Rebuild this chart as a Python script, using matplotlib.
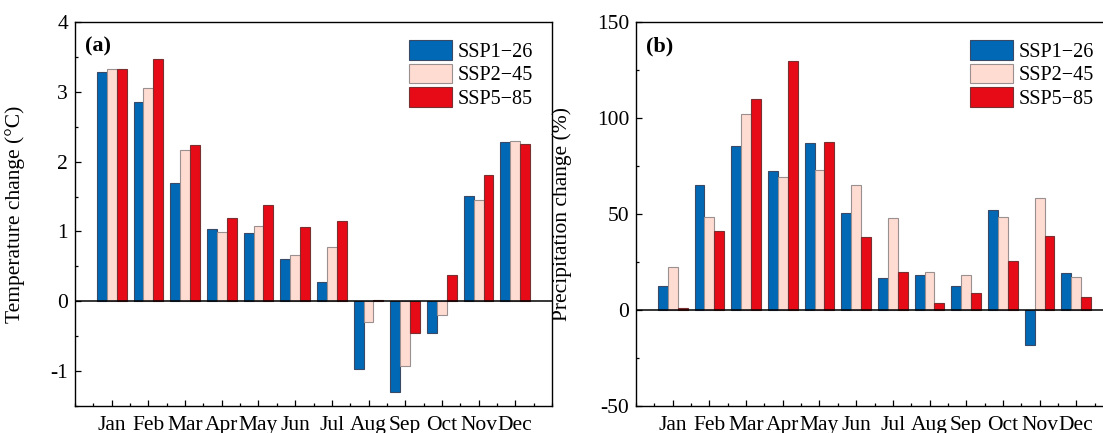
import numpy as np
import matplotlib
matplotlib.use("Agg")
import matplotlib.pyplot as plt
from matplotlib.ticker import MultipleLocator

plt.rcParams["font.family"] = ["Liberation Serif", "DejaVu Serif"]
plt.rcParams["axes.unicode_minus"] = False

# ── Data ──────────────────────────────────────────
months = ["Jan", "Feb", "Mar", "Apr", "May", "Jun",
          "Jul", "Aug", "Sep", "Oct", "Nov", "Dec"]
scenarios = ["SSP1\u221226", "SSP2\u221245", "SSP5\u221285"]

temp_ssp126 = [3.28, 2.85, 1.70, 1.03, 0.98, 0.60, 0.28, -0.97, -1.30, -0.46, 1.51, 2.28]
temp_ssp245 = [3.32, 3.05, 2.16, 0.99, 1.08, 0.66, 0.78, -0.29, -0.92, -0.20, 1.45, 2.29]
temp_ssp585 = [3.33, 3.47, 2.24, 1.19, 1.38, 1.07, 1.15, 0.02, -0.46, 0.37, 1.81, 2.25]

prec_ssp126 = [12.7, 65.3, 85.4, 72.4, 87.0, 50.7, 16.7, 18.4, 12.7, 52.3, -18.4, 19.3]
prec_ssp245 = [22.4, 48.3, 102.1, 69.4, 72.7, 65.1, 47.9, 19.6, 18.2, 48.6, 58.3, 17.2]
prec_ssp585 = [0.9, 41.3, 110.1, 129.7, 87.5, 38.0, 19.6, 3.8, 8.9, 25.5, 38.5, 6.9]

colors = ["#0068b5", "#ffdcd2", "#e60b17"]
edges = ["#3a4a66", "#9a9090", "#7a3030"]

# ── Figure ────────────────────────────────────────
W, H = 1103, 433
fig = plt.figure(figsize=(W / 100, H / 100), dpi=100)
ax_a = fig.add_axes([75 / W, 27 / H, 477 / W, 384 / H])
ax_b = fig.add_axes([636 / W, 27 / H, 477 / W, 384 / H])

x = np.arange(1, 13)
bw = 0.27


def draw_panel(ax, series, ylim, major, minor, ylabel, tag):
    for i, (vals, c, ec) in enumerate(zip(series, colors, edges)):
        ax.bar(x + (i - 1) * bw, vals, width=bw, color=c, edgecolor=ec,
               linewidth=0.8, label=scenarios[i], zorder=2)
    ax.axhline(0, color="black", linewidth=1.1, zorder=3)
    ax.set_xlim(0, 13)
    ax.set_ylim(*ylim)
    ax.set_xticks(x)
    ax.set_xticklabels(months)
    ax.xaxis.set_minor_locator(MultipleLocator(0.5))
    ax.yaxis.set_major_locator(MultipleLocator(major))
    ax.yaxis.set_minor_locator(MultipleLocator(minor))
    ax.tick_params(which="both", direction="in", top=False, right=False,
                   labelsize=15.5, width=0.9)
    ax.tick_params(which="major", length=4)
    ax.tick_params(which="minor", length=2.5)
    ax.tick_params(axis="x", pad=7)
    ax.tick_params(axis="y", pad=5)
    for sp in ax.spines.values():
        sp.set_linewidth(1.0)
    ax.set_ylabel(ylabel, fontsize=15.5)
    ax.text(0.022, 0.935, tag, transform=ax.transAxes, fontsize=16,
            fontweight="bold", ha="left", va="center")
    ax.legend(loc="upper left", bbox_to_anchor=(0.70, 0.952), frameon=False,
              fontsize=14.5, handlelength=2.15, handleheight=1.1,
              labelspacing=0.1, handletextpad=0.25, borderpad=0,
              borderaxespad=0)


draw_panel(ax_a, [temp_ssp126, temp_ssp245, temp_ssp585], (-1.5, 4), 1, 0.5,
           "Temperature change (\u00b0C)", "(a)")
draw_panel(ax_b, [prec_ssp126, prec_ssp245, prec_ssp585], (-50, 150), 50, 25,
           "Precipitation change (%)", "(b)")

ax_a.yaxis.set_label_coords(-0.105, 0.5)
ax_b.yaxis.set_label_coords(-0.135, 0.5)

fig.savefig("out.png", dpi=100)
